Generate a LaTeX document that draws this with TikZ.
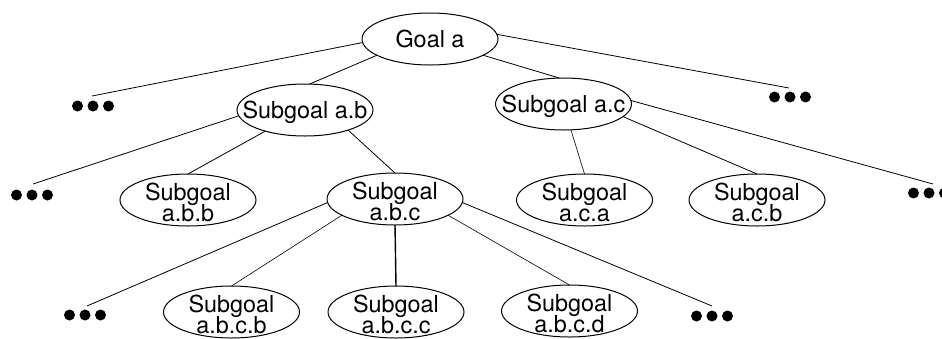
\documentclass[tikz,border=0pt]{standalone}
\usepackage{fontspec}
\setmainfont{TeX Gyre Heros}
\usetikzlibrary{shapes.geometric}
% goal text, boxed to zero size so the ellipse keeps its own size
\newcommand{\goalone}[1]{\smash{\makebox[0pt]{\raisebox{-8.4pt}{#1}}}}
\newcommand{\goaltwo}[2]{%
	\smash{\makebox[0pt]{\raisebox{-0.5pt}{#1}}}%
	\smash{\makebox[0pt]{\raisebox{-21pt}{#2}}}}

\begin{document}
\begin{tikzpicture}[
		x=1pt, y=-1pt,
		font=\fontsize{23.4}{20}\selectfont,
		goal/.style={ellipse, draw, line width=1pt, minimum width=136pt,
			minimum height=52pt, inner sep=0pt, outer sep=0pt},
		link/.style={line width=0.8pt},
		thinlink/.style={line width=0.6pt},
		boldlink/.style={line width=1.4pt},
	]
		\useasboundingbox (0,0) rectangle (942,338);

		% Goals
		\node[goal] (ga) at (430,39) {\goalone{Goal a}};
		\node[goal] (gab) at (305,110) {\goalone{Subgoal a.b}};
		\node[goal] (gac) at (563.5,104) {\goalone{Subgoal a.c}};
		\node[goal] (gabb) at (188,200) {\goaltwo{Subgoal}{a.b.b}};
		\node[goal] (gabc) at (395,199) {\goaltwo{Subgoal}{a.b.c}};
		\node[goal] (gaca) at (584.5,200) {\goaltwo{Subgoal}{a.c.a}};
		\node[goal] (gacb) at (757,200) {\goaltwo{Subgoal}{a.c.b}};
		\node[goal] (gabcb) at (231.5,312) {\goaltwo{Subgoal}{a.b.c.b}};
		\node[goal] (gabcc) at (396,312) {\goaltwo{Subgoal}{a.b.c.c}};
		\node[goal] (gabcd) at (569.5,311) {\goaltwo{Subgoal}{a.b.c.d}};

		% More goals (dots) and the ends of their links
		\coordinate (tl) at (93,106);   \coordinate (tlend) at (92,96);
		\coordinate (tr) at (790,97);   \coordinate (trend) at (789,88);
		\coordinate (ml) at (32,195);   \coordinate (mlend) at (33,184);
		\coordinate (mr) at (929,193);  \coordinate (mrend) at (933,184);
		\coordinate (bl) at (85,315);   \coordinate (blend) at (87,306);
		\coordinate (br) at (712,316);  \coordinate (brend) at (712,306);
		\foreach \d in {tl,tr,ml,mr,bl,br}
			\foreach \dx in {-15.5,0,15.5}
				\fill[shift={(\d)}] (\dx,0) circle (5.5);

		% Links
		\draw[link] (ga.183) -- (tlend);
		\draw[link] (ga.4) -- (trend);
		\draw[link] (ga.197) -- (gab.80);
		\draw[link] (ga.343) -- (gac.99);
		\draw[link] (gab.185) -- (mlend);
		\draw[link] (gab.208) -- (gabb.north);
		\draw[link] (gab.335) -- (gabc.north);
		\draw[link] (gac.3) -- (mrend);
		\draw[thinlink] (gac.286) -- (gaca.north);
		\draw[link] (gac.348) -- (gacb.north);
		\draw[link] (gabc.183) -- (blend);
		\draw[thinlink] (gabc.197) -- (gabcb.north);
		\draw[boldlink] (gabc.south) -- (gabcc.north);
		\draw[thinlink] (gabc.343) -- (gabcd.north);
		\draw[link] (gabc.357) -- (brend);
	\end{tikzpicture}
\end{document}
